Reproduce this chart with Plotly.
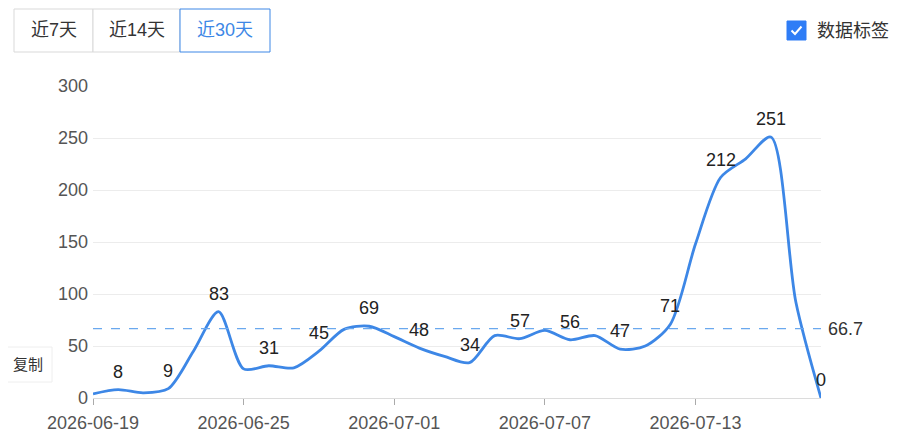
import pandas as pd
import plotly.graph_objects as go

# daily values, 2026-06-19 .. 2026-07-18
dates = pd.date_range("2026-06-19", "2026-07-18", freq="D")
values = [4, 8, 5, 9, 45, 83, 28, 31, 29, 45,
          66, 69, 59, 48, 40, 34, 60, 57, 65, 56,
          60, 47, 50, 71, 148, 212, 230, 251, 92, 0]
avg_value = 66.7
range_buttons = ["近7天", "近14天", "近30天"]
checkbox_label = "数据标签"
copy_label = "复制"

# page has an 8px body margin, so work in screen coords and subtract it
OFF = 8
W, H = 900, 440
L, T = 93 - OFF, 86 - OFF
R, B = W - (821 - OFF), H - (398 - OFF)
PW, PH = W - L - R, H - T - B


def px(x):
    return (x - OFF - L) / PW


def py(y):
    return (H - B - (y - OFF)) / PH


FONT = "Liberation Sans, Noto Sans CJK SC, sans-serif"
BLUE = "#3d87e6"

fig = go.Figure()
fig.add_trace(go.Scatter(
    x=dates, y=values, mode="lines",
    line=dict(color=BLUE, width=2.8, shape="spline", smoothing=0.8),
    hoverinfo="x+y", showlegend=False,
))

# average line
fig.add_shape(type="line", xref="paper", x0=0, x1=1, yref="y", y0=avg_value, y1=avg_value,
              line=dict(color="#6aa8ee", width=1.2, dash="dash"))
fig.add_annotation(xref="paper", x=px(826), yref="y", y=avg_value, text=f"{avg_value}",
                   showarrow=False, xanchor="left", yanchor="middle",
                   font=dict(size=18, color="#333", family=FONT))

# data labels (every other point, like the source)
for i in range(1, len(values), 2):
    fig.add_annotation(x=dates[i], y=values[i], text=str(values[i]), showarrow=False,
                       xanchor="center", yanchor="middle", yshift=18,
                       font=dict(size=18, color="#222", family=FONT))

# range buttons
edges = [14, 93, 180, 270]
for i, lab in enumerate(range_buttons):
    active = i == len(range_buttons) - 1
    fig.add_shape(type="rect", xref="paper", yref="paper",
                  x0=px(edges[i]), x1=px(edges[i + 1]), y0=py(52), y1=py(9),
                  line=dict(color=BLUE if active else "#d9d9d9", width=1),
                  fillcolor="white", layer="above")
    fig.add_annotation(xref="paper", yref="paper", x=px((edges[i] + edges[i + 1]) / 2), y=py(30.5),
                       text=lab, showarrow=False, xanchor="center", yanchor="middle",
                       font=dict(size=18, color=BLUE if active else "#333", family=FONT))

# checkbox
fig.add_shape(type="rect", xref="paper", yref="paper", x0=px(787), x1=px(806), y0=py(40), y1=py(21),
              fillcolor="#2f7df6", line=dict(color="#2f7df6", width=1))
fig.add_shape(type="path", xref="paper", yref="paper",
              path=f"M {px(791.5)} {py(30.5)} L {px(795)} {py(34)} L {px(801.5)} {py(26.5)}",
              line=dict(color="white", width=2))
fig.add_annotation(xref="paper", yref="paper", x=px(815), y=py(31), text=checkbox_label,
                   showarrow=False, xanchor="left", yanchor="middle",
                   font=dict(size=18, color="#333", family=FONT))

# copy popup
fig.add_shape(type="rect", xref="paper", yref="paper", x0=px(3), x1=px(52), y0=py(382), y1=py(347),
              fillcolor="white", line=dict(color="#eeeeee", width=1), layer="above")
fig.add_annotation(xref="paper", yref="paper", x=px(27.5), y=py(364.5), text=copy_label,
                   showarrow=False, xanchor="center", yanchor="middle",
                   font=dict(size=15, color="#333", family=FONT))

fig.update_layout(
    width=W, height=H,
    margin=dict(l=L, r=R, t=T, b=B),
    paper_bgcolor="white", plot_bgcolor="white",
    font=dict(family=FONT),
    xaxis=dict(
        range=[dates[0], dates[-1]],
        tickvals=dates[::6], tickformat="%Y-%m-%d",
        showgrid=False, showline=True, linecolor="#dcdcdc", linewidth=1,
        ticks="outside", ticklen=6, tickcolor="#aaa",
        tickfont=dict(size=18, color="#555"), ticklabelstandoff=2,
        zeroline=False,
    ),
    yaxis=dict(
        range=[0, 300], dtick=50,
        showgrid=True, gridcolor="#ececec",
        zeroline=False, showline=False,
        tickfont=dict(size=18, color="#555"), ticklabelstandoff=4,
    ),
)

fig.write_html("out.html")
